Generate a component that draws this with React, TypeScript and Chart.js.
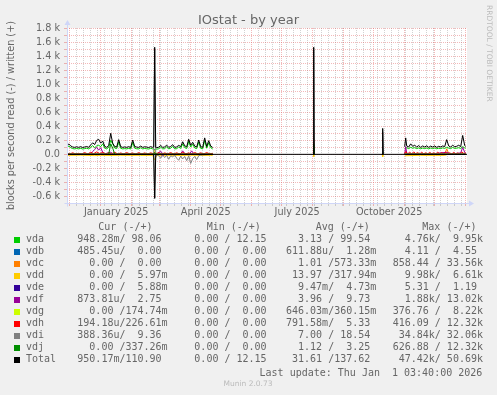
import React, { useEffect, useRef } from 'react';
import { Chart, registerables } from 'chart.js';

Chart.register(...registerables);

const W = 497;
const H = 395;

// x values are days counted from 1 January 2025
const X_MIN = -33.7;
const X_MAX = 366.3;
const Y_MIN = -695;
const Y_MAX = 1805;

const monthStarts = [-31, 0, 31, 59, 90, 120, 151, 181, 212, 243, 273, 304, 334, 365];
const xLabelDays = [15.5, 105, 196.5, 288.5];
const xLabelTexts = ['January 2025', 'April 2025', 'July 2025', 'October 2025'];
const yTickValues = [-600, -500, -400, -300, -200, -100, 0, 100, 200, 300, 400, 500, 600, 700, 800, 900, 1000, 1100, 1200, 1300, 1400, 1500, 1600, 1700, 1800];

// ---- main series (period 1, isolated spikes, period 3) ----
const p1Days = [-34, -32, -30, -28, -26, -24, -22, -20, -18, -16, -14, -12, -10, -8, -6, -4, -2,
  0, 2, 4, 6, 8, 10, 12, 14, 16, 18, 20, 22, 24, 26, 28, 30, 32, 34, 36, 38, 40, 42, 44, 46, 48, 50, 52,
  53, 54, 55,
  56, 58, 60, 62, 64, 66, 68, 70, 72, 74, 76, 78, 80, 82, 84, 86, 88, 90, 92, 94, 96, 98, 100, 102, 104, 106, 108, 110, 112];
const gapDays = [113, 212.5, 213, 213.5, 214, 281.5, 282, 282.5, 283];
const p3Days = [304, 305, 306, 308, 310, 312, 314, 316, 318, 320, 322, 324, 326, 328, 330, 332, 334, 336, 338, 340,
  342, 344, 346, 348, 350, 352, 354, 356, 358, 360, 362, 364, 365];

const totalWriteP1 = [110, 150, 120, 105, 100, 108, 100, 110, 98, 105, 112, 100, 135, 165, 140, 200, 215,
  160, 190, 115, 100, 125, 300, 160, 112, 105, 210, 110, 100, 106, 100, 110, 98, 205, 112, 104, 100, 118, 100, 108, 104, 98, 110, 100,
  105, 1530, 100,
  96, 102, 128, 100, 106, 132, 100, 112, 138, 100, 106, 128, 110, 180, 122, 108, 215, 130, 172, 118, 105, 205, 110, 100, 235, 112, 195, 120, 98];
const totalWriteGap = [null, 0, 1530, 0, null, 0, 370, 0, null];
const totalWriteP3 = [110, 235, 120, 105, 150, 115, 130, 105, 125, 100, 120, 105, 122, 100, 118, 104, 120, 100, 115, 105,
  120, 110, 210, 120, 105, 130, 108, 115, 130, 110, 270, 125, 115];

const vdaWriteP1 = [85, 120, 95, 82, 78, 84, 78, 86, 76, 82, 88, 78, 100, 125, 95, 120, 130,
  110, 150, 90, 78, 100, 200, 150, 90, 82, 180, 86, 78, 82, 78, 86, 76, 170, 88, 80, 78, 94, 78, 84, 80, 76, 86, 78,
  80, 60, 78,
  74, 80, 104, 78, 82, 108, 78, 88, 112, 78, 82, 104, 86, 150, 96, 84, 185, 104, 145, 92, 82, 175, 86, 78, 200, 88, 165, 96, 76];
const vdaWriteGap = [null, 0, 200, 0, null, 0, 45, 0, null];
const vdaWriteP3 = [85, 90, 95, 82, 100, 88, 95, 82, 92, 80, 90, 82, 92, 78, 90, 82, 92, 80, 88, 82,
  92, 85, 100, 90, 82, 98, 85, 88, 95, 85, 110, 92, 88];

// ---- smaller series as [day, value] pairs ----
const idleZero = [[-34, 0], [112, 0], [113, null], [304, 0], [365, 0]];
const vdaRead = [[-34, 0], [8, 0], [10, -12], [12, 0], [112, 0], [113, null], [304, 0], [365, 0]];
const vdcWrite = [[-34, 0], [52, 0], [54, 25], [56, 0], [112, 0], [113, null], [304, 0], [344, 0], [346, 80], [348, 10], [350, 0], [360, 0], [362, 30], [364, 0], [365, 0]];
const vddRead = [[-34, -15], [-20, -12], [-6, -18], [0, -14], [10, -16], [20, -13], [30, -15], [40, -14], [52, -15], [54, -80], [56, -15], [70, -14], [80, -16], [90, -13], [100, -15], [110, -14], [112, -15], [113, null],
  [212.5, 0], [213, -30], [213.5, 0], [214, null], [281.5, 0], [282, -35], [282.5, 0], [283, null],
  [304, -12], [305, -20], [320, -14], [335, -15], [344, -14], [346, -5], [348, 0], [365, 0]];
const vdfWrite = [[-34, 5], [-20, 5], [-10, 10], [-8, 40], [-6, 70], [-4, 100], [-2, 60], [0, 95], [2, 30], [4, 8], [10, 30], [12, 10], [20, 5], [40, 5], [52, 5], [54, 20], [56, 5], [60, 45], [62, 8], [70, 5], [80, 10], [82, 50], [84, 10], [89, 8], [91, 50], [93, 8], [100, 5], [112, 5], [113, null],
  [304, 0], [305, 110], [306, 20], [308, 5], [330, 5], [346, 30], [350, 5], [360, 20], [362, 100], [364, 30], [365, 10]];
const vdfRead = [[-34, 0], [60, 0], [62, -20], [64, 0], [112, 0], [113, null], [304, 0], [365, 0]];
const vdgWrite = [[-34, 0], [52, 0], [54, 60], [56, 0], [112, 0], [113, null], [304, 0], [365, 0]];
const vdgRead = [[-34, 0], [40, 0], [41, -15], [42, 0], [112, 0], [113, null], [304, 0], [365, 0]];
const vdhWrite = [[-34, 18], [-31, 5], [-28, 22], [-25, 6], [-22, 15], [-19, 4], [-16, 25], [-13, 6], [-10, 30], [-7, 10], [-4, 35], [-1, 12], [2, 28], [5, 6], [8, 22], [11, 8], [14, 30], [17, 5], [20, 20], [23, 6], [26, 25], [29, 8], [32, 18], [35, 5], [38, 24], [41, 6], [44, 20], [47, 5], [50, 22], [53, 8], [54, 30], [55, 6], [58, 24], [61, 5], [64, 20], [67, 8], [70, 25], [73, 5], [76, 22], [79, 6], [82, 28], [85, 8], [88, 20], [91, 5], [94, 25], [97, 8], [100, 22], [103, 6], [106, 25], [109, 8], [112, 15], [113, null],
  [212.5, 0], [213, 220], [213.5, 0], [214, null],
  [304, 10], [305, 40], [307, 8], [309, 30], [311, 6], [313, 35], [315, 10], [317, 25], [319, 5], [321, 30], [323, 8], [325, 22], [327, 6], [329, 28], [331, 10], [333, 20], [335, 5], [337, 30], [339, 8], [341, 25], [343, 6], [345, 30], [347, 10], [349, 22], [351, 5], [353, 28], [355, 8], [357, 20], [359, 6], [361, 35], [363, 10], [365, 20]];
const vdiWrite = [[-34, 3], [52, 3], [53, 12], [54, 1500], [55, 10], [56, 3], [112, 3], [113, null], [212.5, 0], [213, 1500], [213.5, 0], [214, null], [281.5, 0], [282, 320], [282.5, 0], [283, null], [304, 3], [365, 3]];
const vdiRead = [[-34, 0], [50, 0], [52, -5], [53, -10], [54, -620], [55, -40], [56, -5], [58, -20], [60, -55], [62, -10], [64, -45], [66, -15], [68, -70], [70, -20], [72, -35], [74, -10], [76, -55], [78, -85], [80, -25], [82, -65], [84, -30], [86, -90], [88, -20], [90, -130], [92, -60], [94, -30], [96, -75], [98, -20], [100, -10], [104, -5], [112, 0], [113, null], [304, 0], [365, 0]];
const vdjWrite = [[-34, 0], [8, 0], [10, 150], [12, 90], [14, 0], [52, 0], [54, 20], [56, 0], [112, 0], [113, null], [212.5, 0], [213, 150], [213.5, 0], [214, null], [304, 0], [365, 0]];
const totalRead = [[-34, -2], [52, -2], [53, -10], [54, -630], [55, -10], [56, -2], [112, -2], [113, null], [304, -2], [365, -2]];
const zeroLine = [[X_MIN, 0], [X_MAX, 0]];

// ---- legend ----
const legendNames = ['vda', 'vdb', 'vdc', 'vdd', 'vde', 'vdf', 'vdg', 'vdh', 'vdi', 'vdj', 'Total'];
const legendColors = ['#00CC00', '#0066B3', '#FF8000', '#FFCC00', '#330099', '#990099', '#CCFF00', '#FF0000', '#808080', '#008F00', '#000000'];
const curCol = ['948.28m/ 98.06 ', '485.45u/  0.00 ', '  0.00 /  0.00 ', '  0.00 /  5.97m', '  0.00 /  5.88m', '873.81u/  2.75 ', '  0.00 /174.74m', '194.18u/226.61m', '388.36u/  9.36 ', '  0.00 /337.26m', '950.17m/110.90 '];
const minCol = ['  0.00 / 12.15 ', '  0.00 /  0.00 ', '  0.00 /  0.00 ', '  0.00 /  0.00 ', '  0.00 /  0.00 ', '  0.00 /  0.00 ', '  0.00 /  0.00 ', '  0.00 /  0.00 ', '  0.00 /  0.00 ', '  0.00 /  0.00 ', '  0.00 / 12.15 '];
const avgCol = ['  3.13 / 99.54 ', '611.88u/  1.28m', '  1.01 /573.33m', ' 13.97 /317.94m', '  9.47m/  4.73m', '  3.96 /  9.73 ', '646.03m/360.15m', '791.58m/  5.33 ', '  7.00 / 18.54 ', '  1.12 /  3.25 ', ' 31.61 /137.62 '];
const maxCol = ['  4.76k/  9.95k', '  4.11 /  4.55 ', '858.44 / 33.56k', '  9.98k/  6.61k', '  5.31 /  1.19 ', '  1.88k/ 13.02k', '376.76 /  8.22k', '416.09 / 12.32k', ' 34.84k/ 32.06k', '626.88 / 12.32k', ' 47.42k/ 50.69k'];
const colHeaders = ['Cur (-/+)', 'Min (-/+)', 'Avg (-/+)', 'Max (-/+)'];

const FONT_COLOR = '#666666';
const AXIS = '#CFD6F8';
const GRID = 'rgba(143,143,143,0.4)';
const MGRID = 'rgba(222,80,80,0.4)';
const SANS = "'DejaVu Sans', sans-serif";
const MONO = "'DejaVu Sans Mono', monospace";

const pts = (pairs: any[]) => pairs.map(([x, y]) => ({ x, y }));
const joinMain = (p1: any[], gap: any[], p3: any[]) => [
  ...p1Days.map((d, i) => ({ x: d, y: p1[i] })),
  ...gapDays.map((d, i) => ({ x: d, y: gap[i] })),
  ...p3Days.map((d, i) => ({ x: d, y: p3[i] })),
];

const deviceSeries = [
  { color: '#00CC00', read: pts(vdaRead), write: joinMain(vdaWriteP1, vdaWriteGap, vdaWriteP3) },
  { color: '#0066B3', read: pts(idleZero), write: pts(idleZero) },
  { color: '#FF8000', read: pts(idleZero), write: pts(vdcWrite) },
  { color: '#FFCC00', read: pts(vddRead), write: pts(idleZero) },
  { color: '#330099', read: pts(idleZero), write: pts(idleZero) },
  { color: '#990099', read: pts(vdfRead), write: pts(vdfWrite) },
  { color: '#CCFF00', read: pts(vdgRead), write: pts(vdgWrite) },
  { color: '#FF0000', read: pts(idleZero), write: pts(vdhWrite) },
  { color: '#808080', read: pts(vdiRead), write: pts(vdiWrite) },
  { color: '#008F00', read: pts(idleZero), write: pts(vdjWrite) },
];

function buildDatasets() {
  const ds: any[] = [];
  const n = deviceSeries.length;
  deviceSeries.forEach((s, i) => {
    const order = n + 2 - i;
    ds.push({ data: s.read, borderColor: s.color, order });
    ds.push({ data: s.write, borderColor: s.color, order });
  });
  ds.push({ data: pts(zeroLine), borderColor: '#000000', order: 1 });
  ds.push({ data: pts(totalRead), borderColor: '#000000', order: 0 });
  ds.push({ data: joinMain(totalWriteP1, totalWriteGap, totalWriteP3), borderColor: '#000000', order: 0 });
  return ds.map((d) => ({ ...d, borderWidth: 1, pointRadius: 0, spanGaps: false, fill: false, tension: 0 }));
}

function buildXTicks() {
  const ticks: number[] = [...monthStarts];
  for (let d = -31; d <= 366; d += 7) if (!monthStarts.includes(d)) ticks.push(d);
  xLabelDays.forEach((d) => ticks.push(d));
  return ticks.filter((v) => v >= X_MIN && v <= X_MAX).sort((a, b) => a - b);
}

const framePlugin = {
  id: 'rrdFrame',
  beforeDraw(chart: any) {
    const { ctx, chartArea: a } = chart;
    ctx.save();
    ctx.fillStyle = '#FFFFFF';
    ctx.fillRect(a.left, a.top, a.right - a.left, a.bottom - a.top);
    ctx.restore();
  },
  afterDraw(chart: any) {
    const { ctx, chartArea: a } = chart;
    const lx = Math.round(a.left) + 0.5;
    const by = Math.round(a.bottom) + 0.5;
    ctx.save();
    ctx.strokeStyle = AXIS;
    ctx.fillStyle = AXIS;
    ctx.lineWidth = 1;
    ctx.beginPath();
    ctx.moveTo(lx - 3, by);
    ctx.lineTo(a.right + 2, by);
    ctx.moveTo(lx, by + 3);
    ctx.lineTo(lx, a.top - 3);
    ctx.stroke();
    ctx.beginPath();
    ctx.moveTo(a.right + 7, by);
    ctx.lineTo(a.right + 2, by - 3);
    ctx.lineTo(a.right + 2, by + 3);
    ctx.closePath();
    ctx.fill();
    ctx.beginPath();
    ctx.moveTo(lx, a.top - 8);
    ctx.lineTo(lx - 3, a.top - 3);
    ctx.lineTo(lx + 3, a.top - 3);
    ctx.closePath();
    ctx.fill();
    ctx.restore();
  },
};

function T(props: { x: number; y: number; size: number; family: string; color: string; align?: string; children: any }) {
  const { x, y, size, family, color, align, children } = props;
  const style: any = {
    position: 'absolute',
    top: y - 0.846 * size,
    fontFamily: family,
    fontSize: size,
    lineHeight: `${size}px`,
    color,
    whiteSpace: 'pre',
  };
  if (align === 'center') {
    style.left = x;
    style.transform = 'translateX(-50%)';
  } else if (align === 'right') {
    style.right = W - x;
  } else {
    style.left = x;
  }
  return <span style={style}>{children}</span>;
}

export default function App() {
  const ref = useRef<HTMLCanvasElement>(null);

  useEffect(() => {
    document.body.style.margin = '0';
    const xTicks = buildXTicks();
    const chart = new Chart(ref.current as HTMLCanvasElement, {
      type: 'line',
      data: { datasets: buildDatasets() },
      plugins: [framePlugin],
      options: {
        animation: false,
        responsive: false,
        devicePixelRatio: 1,
        events: [],
        layout: { padding: { left: 0, top: 28, right: 30, bottom: 0 } },
        plugins: { legend: { display: false }, tooltip: { enabled: false }, title: { display: false } },
        elements: { point: { radius: 0 }, line: { borderJoinStyle: 'round' } },
        scales: {
          x: {
            type: 'linear',
            min: X_MIN,
            max: X_MAX,
            afterFit: (s: any) => { s.height = H - 203; },
            afterBuildTicks: (s: any) => { s.ticks = xTicks.map((v) => ({ value: v })); },
            ticks: {
              autoSkip: false,
              maxRotation: 0,
              minRotation: 0,
              padding: 1,
              color: FONT_COLOR,
              font: { family: SANS, size: 9.7 },
              callback: (v: any) => {
                const i = xLabelDays.indexOf(Number(v));
                return i >= 0 ? xLabelTexts[i] : '';
              },
            },
            grid: {
              drawTicks: true,
              tickLength: 3,
              lineWidth: 1,
              color: (c: any) => {
                const v = c.tick ? c.tick.value : NaN;
                if (monthStarts.includes(v)) return MGRID;
                if (xLabelDays.includes(v)) return 'rgba(0,0,0,0)';
                return GRID;
              },
            },
            border: { display: false, dash: [1, 1] },
          },
          y: {
            type: 'linear',
            min: Y_MIN,
            max: Y_MAX,
            afterFit: (s: any) => { s.width = 67; },
            afterBuildTicks: (s: any) => { s.ticks = yTickValues.map((v) => ({ value: v })); },
            ticks: {
              autoSkip: false,
              padding: 4,
              color: FONT_COLOR,
              font: { family: SANS, size: 9.7 },
              callback: (v: any) => {
                const n = Number(v);
                if (n === 0) return '0.0';
                if (n % 200 !== 0) return '';
                return (n / 1000).toFixed(1) + ' k';
              },
            },
            grid: {
              drawTicks: true,
              tickLength: 3,
              lineWidth: 1,
              color: () => MGRID,
            },
            border: { display: false, dash: [1, 1] },
            title: {
              display: true,
              text: 'blocks per second read (-) / written (+)',
              color: FONT_COLOR,
              font: { family: SANS, size: 9.7 },
              padding: { top: 5.5, bottom: 0 },
            },
          },
        },
      } as any,
    });
    return () => chart.destroy();
  }, []);

  const colX = [77.3, 182.3, 286, 392.7];
  const headerX = [98.3, 206.7, 315.7, 422.3];
  const cols = [curCol, minCol, avgCol, maxCol];

  return (
    <div style={{ position: 'absolute', left: 0, top: 0, width: W, height: H, background: '#F0F0F0', overflow: 'hidden' }}>
      <canvas ref={ref} width={W} height={H} style={{ position: 'absolute', left: 0, top: 0, width: W, height: H }} />
      <T x={248.5} y={24} size={13} family={SANS} color={FONT_COLOR} align="center">IOstat - by year</T>
      <span
        style={{
          position: 'absolute',
          left: 484.5,
          top: 5,
          writingMode: 'vertical-rl',
          fontFamily: SANS,
          fontSize: 7.5,
          lineHeight: '8px',
          color: '#BBBBBB',
          whiteSpace: 'pre',
        }}
      >
        RRDTOOL / TOBI OETIKER
      </span>
      {colHeaders.map((h, i) => (
        <T key={h} x={headerX[i]} y={230.5} size={10} family={MONO} color={FONT_COLOR}>{h}</T>
      ))}
      {legendNames.map((name, r) => {
        const base = 242.5 + r * 12;
        return (
          <React.Fragment key={name}>
            <div style={{ position: 'absolute', left: 14, top: base - 5.5, width: 6, height: 6, background: legendColors[r] }} />
            <T x={26} y={base} size={10} family={MONO} color={FONT_COLOR}>{name}</T>
            {cols.map((c, ci) => (
              <T key={ci} x={colX[ci]} y={base} size={10} family={MONO} color={FONT_COLOR}>{c[r]}</T>
            ))}
          </React.Fragment>
        );
      })}
      <T x={482.3} y={376.5} size={10} family={MONO} color={FONT_COLOR} align="right">Last update: Thu Jan  1 03:40:00 2026</T>
      <T x={248} y={386.8} size={7.5} family={SANS} color="#BBBBBB" align="center">Munin 2.0.73</T>
    </div>
  );
}
